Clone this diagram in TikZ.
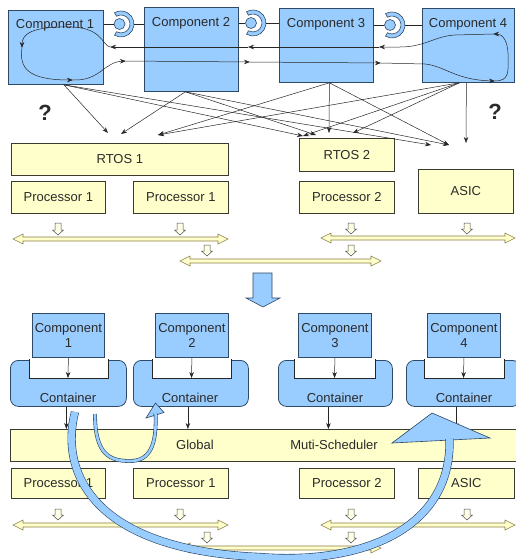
\documentclass[tikz,border=0pt]{standalone}
\usepackage{fontspec}
\setmainfont{Liberation Sans}
\usetikzlibrary{arrows.meta,calc}
\definecolor{cblue}{HTML}{99CCFF}
\definecolor{cborder}{HTML}{2E4A66}
\definecolor{yfill}{HTML}{FFFFCC}
\definecolor{yborder}{HTML}{3A3A30}
\definecolor{busline}{HTML}{8C7E45}
\definecolor{txtc}{HTML}{2A2A2A}
\definecolor{arrline}{HTML}{2B4866}
\newcommand\mybus[3]{%
  \draw[busst] (#1,#3) -- (#1+10,#3-5) -- (#1+10,#3-2) -- (#2-10,#3-2) -- (#2-10,#3-5) -- (#2,#3)
   -- (#2-10,#3+5) -- (#2-10,#3+2) -- (#1+10,#3+2) -- (#1+10,#3+5) -- cycle;}
\newcommand\mydown[3]{%
  \draw[dnst] (#1-3,#2) -- (#1+3,#2) -- (#1+3,#3-5) -- (#1+5.5,#3-5) -- (#1,#3) -- (#1-5.5,#3-5) -- (#1-3,#3-5) -- cycle;}
\newcommand\mysocket[1]{%
  \draw[sock] ($(#1)+(120:13)$) arc[start angle=120, end angle=-120, radius=13] -- ($(#1)+(-120:9)$) arc[start angle=-120, end angle=120, radius=9] -- cycle;}
\tikzset{
 comp/.style={draw=cborder, fill=cblue, line width=0.8pt, inner sep=0pt, anchor=north west},
 ybox/.style={draw=yborder, fill=yfill, line width=0.7pt, inner sep=0pt, anchor=north west, font=\fontsize{13}{15.5}\selectfont, text=txtc},
 txt/.style={font=\fontsize{13}{15.5}\selectfont, text=txtc, inner sep=0pt},
 conn/.style={draw=black!85, line width=0.5pt, -{Stealth[length=6pt,width=4.5pt]}},
 plain/.style={draw=black!85, line width=0.6pt},
 busst/.style={draw=busline, fill=yfill, line width=0.6pt},
 dnst/.style={draw=black!70, fill=yfill!50, line width=0.5pt},
 sock/.style={draw=cborder, fill=cblue, line width=0.6pt},
 ball/.style={circle, draw=cborder, fill=cblue, line width=0.6pt, minimum size=11pt, inner sep=0pt},
 cont/.style={draw=cborder, fill=cblue, line width=0.8pt, rounded corners=8pt, inner sep=0pt, anchor=north west, minimum height=46pt},
 bigarr/.style={draw=arrline, line width=0.6pt, fill=cblue},
 bigshaft/.style={draw=arrline, line width=0.6pt, double=cblue, double distance=7pt},
 smallshaft/.style={draw=arrline, line width=0.6pt, double=cblue, double distance=2.6pt},
 qm/.style={font=\bfseries\fontsize{22}{24}\selectfont, text=txtc, inner sep=0pt},
}
\begin{document}
\begin{tikzpicture}[x=1pt,y=-1pt]
\useasboundingbox (0,0) rectangle (516,560);
% ---------- top components ----------
\node[comp, minimum width=95pt, minimum height=74pt] (c1) at (8,10) {};
\node[comp, minimum width=94pt, minimum height=84pt] (c2) at (144,7) {};
\node[comp, minimum width=94pt, minimum height=74pt] (c3) at (279,8) {};
\node[comp, minimum width=92pt, minimum height=74pt] (c4) at (422,8) {};
\node[txt] (c1t) at (55,25) {Component 1};
\node[txt] (c2t) at (191,23) {Component 2};
\node[txt] (c3t) at (326,24) {Component 3};
\node[txt] (c4t) at (468,24) {Component 4};
% ball and socket
\node[ball] (b1) at (119.5,24) {};
\node[ball] (b2) at (251,23) {};
\node[ball] (b3) at (390,25) {};
\coordinate (k1) at (121,24);
\coordinate (k2) at (253,23);
\coordinate (k3) at (392,25);
\mysocket{k1}\mysocket{k2}\mysocket{k3}
\draw[plain] (c1.east |- b1) -- (b1.west);
\draw[plain] ([xshift=13pt]k1) -- (c2.west |- k1);
\draw[plain] (c2.east |- b2) -- (b2.west);
\draw[plain] ([xshift=13pt]k2) -- (c3.west |- k2);
\draw[plain] (c3.east |- b3) -- (b3.west);
\draw[plain] ([xshift=13pt]k3) -- (c4.west |- k3);
% flow loop
\draw[conn] (508,60) .. controls (509,40) and (502,34) .. (493,34);
\draw[conn] (493,34) -- (455,35) .. controls (435,36) and (425,47) .. (400,47) -- (379,47);
\draw[conn] (379,47) -- (248,47);
\draw[conn] (248,47) -- (110,47);
\draw[conn] (110,47) .. controls (102,45) and (102,28) .. (72,27) .. controls (32,26) and (22,34) .. (22,48);
\draw[conn] (22,48) .. controls (19,68) and (28,80) .. (73,80);
\draw[conn] (73,80) .. controls (100,81) and (104,62) .. (126,61);
\draw[conn] (126,61) -- (250,62);
\draw[conn] (250,62) -- (381,63);
\draw[conn] (381,63) -- (425,64) .. controls (445,66) and (455,80) .. (495,81);
\draw[plain, line width=0.5pt] (495,81) .. controls (510,81) and (508,70) .. (508,60);
% question marks
\node[qm] (q1) at (45,113) {?};
\node[qm] (q2) at (495,112) {?};
% ---------- top yellow blocks ----------
\node[ybox, minimum width=217pt, minimum height=32pt] (r1) at (11,143) {RTOS 1};
\node[ybox, minimum width=95pt, minimum height=33pt] (r2) at (299,138) {RTOS 2};
\node[ybox, minimum width=95pt, minimum height=44pt] (as1) at (418,169) {ASIC};
\node[ybox, minimum width=94pt, minimum height=32pt] (p1a) at (11,181) {Processor 1};
\node[ybox, minimum width=95pt, minimum height=32pt] (p1b) at (133,181) {Processor 1};
\node[ybox, minimum width=95pt, minimum height=32pt] (p2) at (299,181) {Processor 2};
% fan arrows
\coordinate (s1) at ([xshift=8pt]c1.south);
\coordinate (s2) at ([xshift=-6pt]c2.south);
\coordinate (s3) at ([xshift=3pt]c3.south);
\coordinate (s4) at ([xshift=-9pt]c4.south);
\coordinate (s4b) at ([xshift=-2pt]c4.south);
\coordinate (ta) at (108,133);
\coordinate (tb) at (121,134);
\coordinate (tc) at (158,135);
\coordinate (td) at (303,136);
\coordinate (te) at (316,135);
\coordinate (tf) at (329,133);
\coordinate (tg) at (353,133);
\coordinate (th) at (431,145);
\coordinate (ti) at (449,145);
\coordinate (tj) at (466,143);
\draw[conn] (s1) -- (ta);
\draw[conn] (s1) -- (td);
\draw[conn] (s1) -- (th);
\draw[conn] (s2) -- (tb);
\draw[conn] (s2) -- (te);
\draw[conn] (s2) -- (ti);
\draw[conn] (s3) -- (tf);
\draw[conn] (s3) -- (tc);
\draw[conn] (s3) -- (ti);
\draw[conn] (s4) -- (tg);
\draw[conn] (s4) -- (tc);
\draw[conn] (s4) -- (td);
\draw[conn] (s4b) -- (tj);
% buses top
\mydown{58}{223}{235}\mydown{180}{223}{235}
\mydown{351}{223}{234}\mydown{467}{223}{234}
\mydown{207}{245}{256}\mydown{351}{245}{256}
\mybus{13}{228}{239}
\mybus{321}{515}{238}
\mybus{180}{381}{261}
% big down arrow
\draw[bigarr] (253,273) -- (272,273) -- (272,298) -- (280,298) -- (263,307) -- (246,298) -- (253,298) -- cycle;
% ---------- bottom ----------
\node[comp, minimum width=72pt, minimum height=44pt] (bc1) at (32,313) {};
\node[comp, minimum width=73pt, minimum height=44pt] (bc2) at (155,313) {};
\node[comp, minimum width=73pt, minimum height=44pt] (bc3) at (298,313) {};
\node[comp, minimum width=73pt, minimum height=44pt] (bc4) at (427,313) {};
\node[txt, align=center] (bc1t) at (bc1.center) {Component\\1};
\node[txt, align=center] (bc2t) at (bc2.center) {Component\\2};
\node[txt, align=center] (bc3t) at (bc3.center) {Component\\3};
\node[txt, align=center] (bc4t) at (bc4.center) {Component\\4};
\node[cont, minimum width=116pt] (ct1) at (10,360) {};
\node[cont, minimum width=115pt] (ct2) at (133,360) {};
\node[cont, minimum width=114pt] (ct3) at (278,360) {};
\node[cont, minimum width=114pt] (ct4) at (406,360) {};
\foreach \a/\b in {29/108,152/231,294/375,424/504}{
  \fill[white] (\a,358.8) rectangle (\b,378);
  \draw[plain] (\a,359) -- (\a,378) -- (\b,378) -- (\b,359);
}
\node[txt] (ct1t) at (68,398) {Container};
\node[txt] (ct2t) at (190,398) {Container};
\node[txt] (ct3t) at (335,398) {Container};
\node[txt] (ct4t) at (464,398) {Container};
\coordinate (n1) at (68,378);
\coordinate (n2) at (191.5,378);
\coordinate (n3) at (334.5,378);
\coordinate (n4) at (463.5,378);
\draw[conn] (bc1.south) -- (n1);
\draw[conn] (bc2.south) -- (n2);
\draw[conn] (bc3.south) -- (n3);
\draw[conn] (bc4.south) -- (n4);
% scheduler bar
\node[ybox, minimum width=512pt, minimum height=32pt] (bar) at (10,429) {};
\node[txt] (glt) at (195,445) {Global};
\node[txt] (mst) at (334,445) {Muti-Scheduler};
\draw[conn] ([xshift=-2pt]ct1.south) -- ([xshift=-2pt]ct1.south |- bar.north);
\draw[conn] ([xshift=-3pt]ct2.south) -- ([xshift=-3pt]ct2.south |- bar.north);
\draw[conn] ([xshift=-7pt]ct3.south) -- ([xshift=-7pt]ct3.south |- bar.north);
\draw[conn] ([xshift=-7pt]ct4.south) -- ([xshift=-7pt]ct4.south |- bar.north);
% bottom processors
\node[ybox, minimum width=94pt, minimum height=30pt] (bp1a) at (11,468) {Processor 1};
\node[ybox, minimum width=95pt, minimum height=30pt] (bp1b) at (133,468) {Processor 1};
\node[ybox, minimum width=95pt, minimum height=30pt] (bp2) at (299,468) {Processor 2};
\node[ybox, minimum width=96pt, minimum height=30pt] (bas) at (418,468) {ASIC};
% bottom buses
\mydown{58}{509}{520}\mydown{180}{509}{520}
\mydown{351}{509}{520}\mydown{467}{509}{520}
\mydown{207}{532}{543}\mydown{351}{532}{543}
\mybus{13}{228}{525}
\mybus{321}{515}{525}
\mybus{180}{381}{548}
% big curved arrows
\draw[bigarr] (392,443) -- (432,413) -- (490,438) -- cycle;
\draw[bigshaft] (75,412) .. controls (60,470) and (90,550) .. (260,557) .. controls (360,565) and (452,530) .. (449.5,439);
\draw[bigarr] (146,418) -- (155.5,403) -- (164,412.5) -- cycle;
\draw[smallshaft] (95,414) .. controls (95,455) and (110,461) .. (130,461) .. controls (150,461) and (157,445) .. (155.5,413);
\end{tikzpicture}
\end{document}
